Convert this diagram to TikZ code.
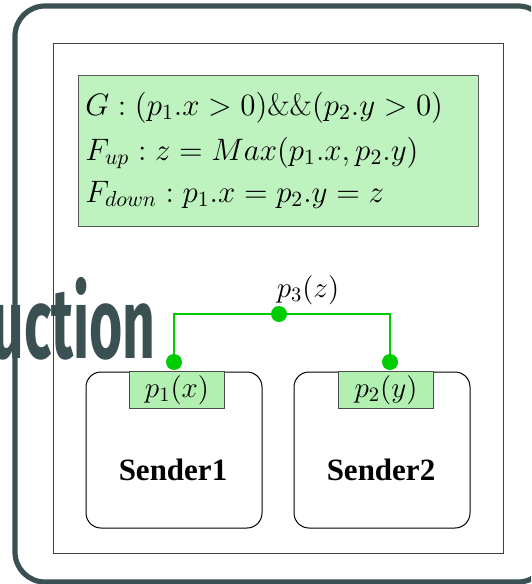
\RequirePackage{fix-cm}
\documentclass[tikz,border=0pt]{standalone}
\usepackage{fontspec}
\newfontfamily\titlefont{Fira Sans}
\newfontfamily\senderfont{Liberation Serif}
\usetikzlibrary{positioning}
\definecolor{framegray}{HTML}{3A5052}
\definecolor{guardgreen}{HTML}{BEF2BE}
\definecolor{portgreen}{HTML}{B2F0B2}
\definecolor{linkgreen}{HTML}{00CC00}

\begin{document}
\begin{tikzpicture}[
    x=0.5pt, y=-0.5pt,
    every node/.style={font=\fontsize{14.6}{18}\selectfont},
    guardbox/.style={draw=black!65, fill=guardgreen, minimum width=200pt, minimum height=75.5pt, inner sep=0pt, line width=0.5pt},
    rule/.style={anchor=base west, inner sep=0pt, font=\fontsize{15.5}{18}\selectfont},
    sender/.style={draw, rounded corners=7.5pt, minimum width=88pt, minimum height=78pt, line width=0.5pt},
    sendername/.style={anchor=base, inner sep=0pt, font=\senderfont\bfseries\fontsize{15.5}{18}\selectfont},
    port/.style={draw=black!70, fill=portgreen, minimum width=47.5pt, minimum height=18.5pt, inner sep=0pt, line width=0.5pt},
    dot/.style={circle, fill=linkgreen, minimum size=8pt, inner sep=0pt},
    link/.style={linkgreen, line width=0.6pt}
]
    \useasboundingbox (0,0) rectangle (531,584);
    \clip (0,0) rectangle (531,584);

    % slide frame and title fragment
    \draw[framegray, line width=2.6pt, rounded corners=15pt] (15,6) rectangle (548,582);
    \node[anchor=base east, inner sep=0pt, text=framegray, font=\titlefont\bfseries\fontsize{50}{50}\selectfont] (title) at (156,358) {\scalebox{0.57}[1]{uction}};

    % figure border
    \draw[black!75, line width=0.45pt] (53,43) rectangle (503,553);

    % guard and functions
    \node[guardbox] (guard) at (278,150.5) {};
    \node[rule] (g) at (85,115) {$G: (p_1.x>0)\&\&(p_2.y>0)$};
    \node[rule] (fup) at (85,160) {$F_{up}: z=Max(p_1.x, p_2.y)$};
    \node[rule] (fdown) at (85,202) {$F_{down}: p_1.x=p_2.y=z$};

    % senders
    \node[sender] (sender1) at (174,450) {};
    \node[sender] (sender2) at (382,450) {};
    \node[sendername] (name1) at (173,480) {Sender1};
    \node[sendername] (name2) at (381,480) {Sender2};

    \node[port] (port1) at (177,390) {$p_1(x)$};
    \node[port] (port2) at (386,390) {$p_2(y)$};

    % connection
    \node[dot] (dot1) at (174,362) {};
    \node[dot] (dot2) at (390,362) {};
    \node[dot] (dot3) at (279,314) {};
    \draw[link] (dot1.north) |- (dot3.west);
    \draw[link] (dot3.east) -| (dot2.north);
    \node[anchor=base, inner sep=0pt] (p3) at (308,297) {$p_3(z)$};
\end{tikzpicture}
\end{document}
